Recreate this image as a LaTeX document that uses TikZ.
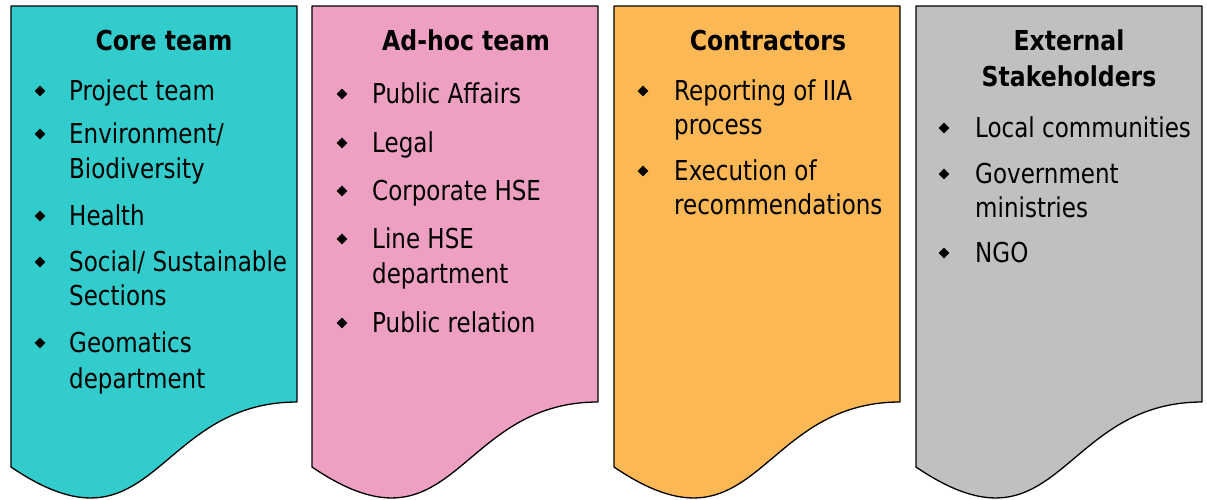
\documentclass[tikz,border=0pt]{standalone}
\usepackage{fontspec}
\usetikzlibrary{shapes.geometric}
\newfontfamily\tfont[FakeStretch=0.84]{DejaVu Sans}
\newfontfamily\hfont[FakeStretch=0.86]{DejaVu Sans}
\definecolor{cteal}{RGB}{51,204,204}
\definecolor{cpink}{RGB}{238,160,195}
\definecolor{corange}{RGB}{251,184,85}
\definecolor{cgray}{RGB}{192,192,192}
\tikzset{
  panel/.style={draw=black, line width=1.3pt, line join=round},
  itm/.style={anchor=base west, inner sep=0pt, font=\tfont\fontsize{27.4}{34}\selectfont},
  hd/.style={anchor=base, inner sep=0pt, font=\hfont\bfseries\fontsize{27.4}{34}\selectfont},
  blt/.style={diamond, fill=black, draw=none, inner sep=0pt, minimum size=11pt}
}
\newcommand\docpath[1]{%
  \path[panel, fill=#1] (0,0) -- (286,0) -- (286,396)
    .. controls (143,396) and (143,558) .. (0,461) -- cycle;}
\begin{document}
\begin{tikzpicture}[x=1pt, y=-1pt]
\useasboundingbox (0,0) rectangle (1207,499);
\fill[white] (0,0) rectangle (1207,499);

% Panel 1: Core team
\begin{scope}[shift={(11,6)}]\docpath{cteal}\end{scope}
\node[hd] (h1) at (164,50) {Core team};
\node[blt] (b11) at (40,91) {};
\node[itm] (t11) at (69,100) {Project team};
\node[blt] (b12) at (40,134) {};
\node[itm] (t12) at (69,143) {Environment/};
\node[itm] (t12b) at (69,178) {Biodiversity};
\node[blt] (b13) at (40,216) {};
\node[itm] (t13) at (69,225) {Health};
\node[blt] (b14) at (40,262) {};
\node[itm] (t14) at (69,271) {Social/ Sustainable};
\node[itm] (t14b) at (69,305) {Sections};
\node[blt] (b15) at (40,343) {};
\node[itm] (t15) at (69,352) {Geomatics};
\node[itm] (t15b) at (69,388) {department};

% Panel 2: Ad-hoc team
\begin{scope}[shift={(312,6)}]\docpath{cpink}\end{scope}
\node[hd] (h2) at (466,50) {Ad-hoc team};
\node[blt] (b21) at (342,94) {};
\node[itm] (t21) at (372,103) {Public Affairs};
\node[blt] (b22) at (342,143) {};
\node[itm] (t22) at (372,152) {Legal};
\node[blt] (b23) at (342,191) {};
\node[itm] (t23) at (372,200) {Corporate HSE};
\node[blt] (b24) at (342,239) {};
\node[itm] (t24) at (372,248) {Line HSE};
\node[itm] (t24b) at (372,283) {department};
\node[blt] (b25) at (342,323) {};
\node[itm] (t25) at (372,332) {Public relation};

% Panel 3: Contractors
\begin{scope}[shift={(614,6)}]\docpath{corange}\end{scope}
\node[hd] (h3) at (768,50) {Contractors};
\node[blt] (b31) at (643,91) {};
\node[itm] (t31) at (674,100) {Reporting of IIA};
\node[itm] (t31b) at (674,134) {process};
\node[blt] (b32) at (643,171) {};
\node[itm] (t32) at (674,180) {Execution of};
\node[itm] (t32b) at (674,214) {recommendations};

% Panel 4: External Stakeholders
\begin{scope}[shift={(916,6)}]\docpath{cgray}\end{scope}
\node[hd] (h4) at (1069,50) {External};
\node[hd] (h4b) at (1069,86) {Stakeholders};
\node[blt] (b41) at (944,128) {};
\node[itm] (t41) at (975,137) {Local communities};
\node[blt] (b42) at (944,174) {};
\node[itm] (t42) at (975,183) {Government};
\node[itm] (t42b) at (975,217) {ministries};
\node[blt] (b43) at (944,253) {};
\node[itm] (t43) at (975,262) {NGO};
\end{tikzpicture}
\end{document}
